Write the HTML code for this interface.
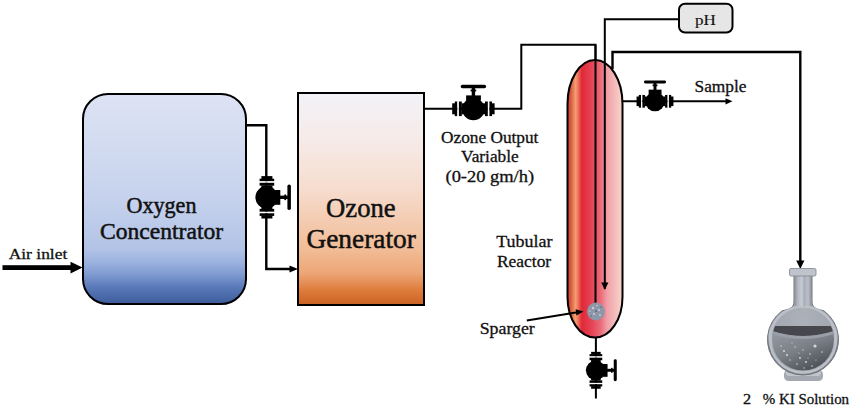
<!DOCTYPE html>
<html><head><meta charset="utf-8">
<style>
html,body{margin:0;padding:0;background:#fff;width:850px;height:408px;overflow:hidden;}
svg{display:block;}
text{font-family:"Liberation Serif",serif;fill:#111;stroke:#111;stroke-width:0.5px;}
text.sm{stroke-width:0.3px;}
</style></head>
<body>
<svg width="850" height="408" viewBox="0 0 850 408">
<defs>
  <linearGradient id="gConc" x1="0" y1="0" x2="0" y2="1">
    <stop offset="0" stop-color="#dde3f3"/>
    <stop offset="0.5" stop-color="#c6d2ed"/>
    <stop offset="0.74" stop-color="#b2c3e6"/>
    <stop offset="0.80" stop-color="#9cb3df"/>
    <stop offset="0.86" stop-color="#7f9ad0"/>
    <stop offset="0.92" stop-color="#5a79b8"/>
    <stop offset="1" stop-color="#3d5c9c"/>
  </linearGradient>
  <linearGradient id="gOzone" x1="0" y1="0" x2="0" y2="1">
    <stop offset="0" stop-color="#f2f2f8"/>
    <stop offset="0.22" stop-color="#f6ebe8"/>
    <stop offset="0.46" stop-color="#f6dccd"/>
    <stop offset="0.74" stop-color="#f1bc96"/>
    <stop offset="0.85" stop-color="#eda676"/>
    <stop offset="0.93" stop-color="#de7c3c"/>
    <stop offset="1" stop-color="#ca6222"/>
  </linearGradient>
  <linearGradient id="gReact" x1="0" y1="0" x2="1" y2="0">
    <stop offset="0" stop-color="#c84030"/>
    <stop offset="0.06" stop-color="#d85a40"/>
    <stop offset="0.15" stop-color="#f5a070"/>
    <stop offset="0.26" stop-color="#e02838"/>
    <stop offset="0.45" stop-color="#e64558"/>
    <stop offset="0.6" stop-color="#eb6a78"/>
    <stop offset="0.72" stop-color="#f0a0a8"/>
    <stop offset="1" stop-color="#f8d6cc"/>
  </linearGradient>
  <g id="valve">
    <rect x="-21.2" y="-5.5" width="3" height="11"/>
    <rect x="-18.6" y="-7.3" width="2.6" height="14.6"/>
    <rect x="-16" y="-7.3" width="1.5" height="14.6" fill="#fff"/>
    <rect x="-14.5" y="-7.3" width="2.9" height="14.6"/>
    <rect x="-11.8" y="-5.5" width="23.6" height="11"/>
    <rect x="11.6" y="-7.3" width="2.9" height="14.6"/>
    <rect x="14.5" y="-7.3" width="1.5" height="14.6" fill="#fff"/>
    <rect x="16" y="-7.3" width="2.6" height="14.6"/>
    <rect x="18.2" y="-5.5" width="3" height="11"/>
    <circle cx="0" cy="0.3" r="11.2"/>
    <rect x="-7.3" y="-13.4" width="14.8" height="5.2"/>
    <rect x="-1.7" y="-21" width="3.4" height="8.5"/>
    <rect x="-2.8" y="-19.2" width="5.6" height="1.8"/>
    <rect x="-12.7" y="-24" width="25.4" height="3.5" rx="1.7"/>
  </g>
</defs>

<!-- Air inlet arrow -->
<rect x="2.5" y="265.2" width="69" height="4.8" fill="#000"/>
<polygon points="70.5,261.8 82.5,267.6 70.5,273.6" fill="#000"/>

<!-- Oxygen concentrator -->
<rect x="83" y="94" width="163" height="210" rx="25" ry="25" fill="url(#gConc)" stroke="#000" stroke-width="2"/>

<!-- pipe conc -> generator -->
<polyline points="246,125.3 266.3,125.3 266.3,269 290,269" fill="none" stroke="#000" stroke-width="2.4"/>
<polygon points="289.5,265.4 298,269 289.5,272.6" fill="#000"/>
<use href="#valve" transform="translate(266.9,197.3) rotate(90)"/>

<!-- Ozone generator -->
<rect x="298" y="93" width="126" height="212" fill="url(#gOzone)" stroke="#000" stroke-width="2"/>

<!-- pipe generator -> reactor -->
<polyline points="424,108.8 521.3,108.8 521.3,44.7 595.5,44.7 595.5,302" fill="none" stroke="#000" stroke-width="2"/>
<use href="#valve" transform="translate(473.4,108.8)"/>

<!-- Reactor -->
<path d="M567.5,104 A27.5,44 0 0 1 622.5,104 L622.5,297 A27.5,40.5 0 0 1 567.5,297 Z" fill="url(#gReact)" stroke="#000" stroke-width="2"/>
<!-- inner lines -->
<line x1="595.5" y1="44.7" x2="595.5" y2="303" stroke="#000" stroke-width="2"/>
<polyline points="604.8,289 604.8,19.2 678,19.2" fill="none" stroke="#000" stroke-width="2"/>
<polygon points="601.2,282.5 608.4,282.5 604.8,290" fill="#000"/>
<polyline points="612.5,69 612.5,52 800.3,52 800.3,261" fill="none" stroke="#000" stroke-width="2.4"/>
<polygon points="796.2,260.5 804.4,260.5 800.3,269" fill="#000"/>

<!-- sparger -->
<circle cx="596" cy="311.5" r="9" fill="#8d97a8"/>
<g fill="#c8ced8"><circle cx="593" cy="308" r="1.2"/><circle cx="599" cy="310" r="1"/><circle cx="594" cy="314" r="1.1"/><circle cx="600" cy="315" r="0.9"/><circle cx="597" cy="305.5" r="0.8"/><circle cx="590" cy="311" r="0.8"/></g>
<g fill="#5c6678"><circle cx="596" cy="311" r="1"/><circle cx="601" cy="307" r="0.8"/><circle cx="591" cy="316" r="0.8"/></g>
<line x1="526.8" y1="320.5" x2="576" y2="312.6" stroke="#000" stroke-width="2"/>
<polygon points="583.5,311.4 575.6,309.2 576.4,315.6" fill="#000"/>

<!-- pH box -->
<rect x="679" y="3.8" width="53.5" height="28.7" rx="6" fill="#e6e6e6" stroke="#000" stroke-width="2"/>

<!-- sample -->
<line x1="623" y1="101.3" x2="727" y2="101.3" stroke="#000" stroke-width="2"/>
<polygon points="725.5,98.2 732.5,101.3 725.5,104.4" fill="#000"/>
<use href="#valve" transform="translate(655,101.3) scale(0.87)"/>

<!-- bottom valve -->
<line x1="595.9" y1="337" x2="595.9" y2="398.5" stroke="#000" stroke-width="2"/>
<use href="#valve" transform="translate(595.9,370.3) rotate(90) scale(0.87)"/>

<!-- flask -->
<g id="flask">
  <defs>
    <linearGradient id="gNeck" x1="0" y1="0" x2="1" y2="0">
      <stop offset="0" stop-color="#8c9098"/>
      <stop offset="0.2" stop-color="#b4b8c2"/>
      <stop offset="0.45" stop-color="#c8ccd4"/>
      <stop offset="0.55" stop-color="#a8acb6"/>
      <stop offset="0.8" stop-color="#bcc0c8"/>
      <stop offset="1" stop-color="#8c9098"/>
    </linearGradient>
    <radialGradient id="gBulb" cx="0.5" cy="0.45" r="0.55">
      <stop offset="0" stop-color="#adb1b9"/>
      <stop offset="0.8" stop-color="#a2a6b0"/>
      <stop offset="0.9" stop-color="#bec2ca"/>
      <stop offset="1" stop-color="#7a7e86"/>
    </radialGradient>
    <linearGradient id="gLiq" x1="0.1" y1="0" x2="0.7" y2="1">
      <stop offset="0" stop-color="#989ca4"/>
      <stop offset="0.45" stop-color="#7c8088"/>
      <stop offset="1" stop-color="#3c3e44"/>
    </linearGradient>
    <clipPath id="cInner"><circle cx="803" cy="339.5" r="31"/></clipPath>
  </defs>
  <rect x="784" y="370" width="39" height="11" rx="4.5" fill="#a4a8b0"/>
  <rect x="786" y="370" width="35" height="6" rx="3" fill="#c0c4cc"/>
  <path d="M794,275 L794,301 C794,308 790,309 782,310.9 A35.5,35.5 0 1 0 824,310.9 C816,309 812,308 812,301 L812,275 Z" fill="url(#gBulb)" stroke="#6c7078" stroke-width="1"/>
  <circle cx="803" cy="339.5" r="33" fill="none" stroke="#bcc0c8" stroke-width="2.4"/>
  <rect x="794.5" y="275" width="17" height="31" fill="url(#gNeck)"/>
  <g clip-path="url(#cInner)">
    <rect x="770" y="328" width="70" height="50" fill="url(#gLiq)"/>
    <path d="M772,326 L834,326 L834,331 Q803,341 772,331 Z" fill="#46484e"/>
    <path d="M772,331 Q803,341 834,331 L834,334 Q803,344 772,334 Z" fill="#9a9ea6"/>
    <g fill="#e4e6ea" opacity="0.85">
      <circle cx="815" cy="346" r="1.6"/><circle cx="784" cy="351" r="1"/><circle cx="787" cy="355" r="1"/>
      <circle cx="800" cy="358" r="0.9"/><circle cx="806" cy="362" r="1"/><circle cx="797" cy="364" r="0.8"/>
      <circle cx="810" cy="354" r="0.8"/><circle cx="803" cy="350" r="0.7"/><circle cx="795" cy="347" r="0.7"/>
      <circle cx="812" cy="366" r="0.8"/><circle cx="790" cy="360" r="0.7"/><circle cx="822" cy="352" r="0.8"/><circle cx="804" cy="368" r="0.7"/><circle cx="808" cy="358" r="0.6"/><circle cx="799" cy="353" r="0.6"/><circle cx="781" cy="346" r="0.7"/><circle cx="792" cy="343" r="0.6"/><circle cx="816" cy="360" r="0.6"/>
    </g>
  </g>
  <rect x="789.5" y="268.5" width="26.5" height="7.5" rx="1.5" fill="#bfc3cb" stroke="#80848c" stroke-width="0.8"/>
</g>
<text class="sm" x="8.7" y="259" font-size="15.5" textLength="58.6" lengthAdjust="spacingAndGlyphs">Air inlet</text>
<text x="126.5" y="213" font-size="22.5" textLength="70.0" lengthAdjust="spacingAndGlyphs">Oxygen</text>
<text x="100.0" y="239.2" font-size="22.5" textLength="123.1" lengthAdjust="spacingAndGlyphs">Concentrator</text>
<text x="326.1" y="216.6" font-size="27" textLength="69.6" lengthAdjust="spacingAndGlyphs">Ozone</text>
<text x="306.4" y="247.5" font-size="27" textLength="109.4" lengthAdjust="spacingAndGlyphs">Generator</text>
<text class="sm" x="441.0" y="142.6" font-size="16" textLength="97.4" lengthAdjust="spacingAndGlyphs">Ozone Output</text>
<text class="sm" x="461.1" y="162" font-size="16" textLength="57.6" lengthAdjust="spacingAndGlyphs">Variable</text>
<text class="sm" x="445.5" y="181.7" font-size="16" textLength="88.6" lengthAdjust="spacingAndGlyphs">(0-20 gm/h)</text>
<text class="sm" x="496.2" y="247.2" font-size="16.5" textLength="56.2" lengthAdjust="spacingAndGlyphs">Tubular</text>
<text class="sm" x="496.9" y="266.8" font-size="16.5" textLength="54.3" lengthAdjust="spacingAndGlyphs">Reactor</text>
<text class="sm" x="479.7" y="333.7" font-size="16.5" textLength="55.1" lengthAdjust="spacingAndGlyphs">Sparger</text>
<text class="sm" style="stroke-width:0.1px" x="694.9" y="24.5" font-size="15" textLength="20.8" lengthAdjust="spacingAndGlyphs">pH</text>
<text class="sm" x="694.5" y="91.9" font-size="16" textLength="52.0" lengthAdjust="spacingAndGlyphs">Sample</text>
<text class="sm" x="742.9" y="404" font-size="15" textLength="8.1" lengthAdjust="spacingAndGlyphs">2</text>
<text class="sm" x="762.7" y="404" font-size="15" textLength="86.4" lengthAdjust="spacingAndGlyphs">% KI Solution</text>
</svg>
</body></html>
